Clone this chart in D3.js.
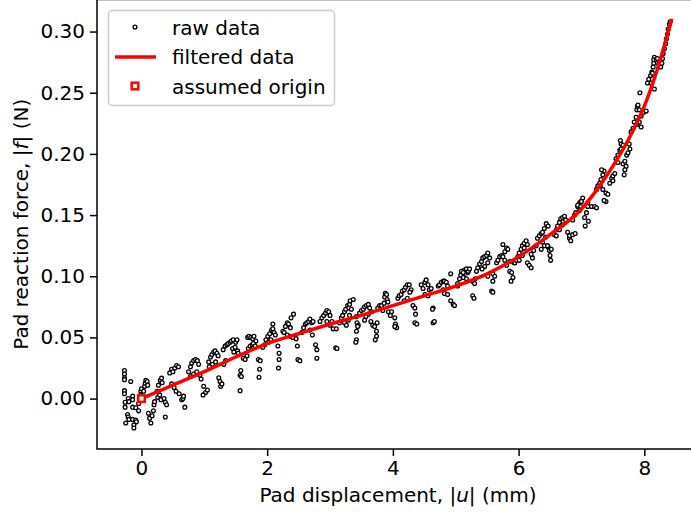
<!DOCTYPE html>
<html>
<head>
  <meta charset="utf-8">
  <title>Pad reaction force</title>
  <script src="https://cdnjs.cloudflare.com/ajax/libs/d3/7.8.5/d3.min.js"></script>
  <style>
    html, body { margin: 0; padding: 0; background: #fff; }
    svg { display: block; font-family: "DejaVu Sans", sans-serif; }
  </style>
</head>
<body>
  <svg id="chart" width="691" height="512"></svg>
  <script>
    const rawData = [
      [-0.27,0.023],[-0.27,0.020],[-0.27,0.017],[-0.27,0.0155],[-0.27,0.0065],[-0.27,0.004],[-0.26,-0.003],[-0.26,-0.007],[-0.25,-0.020],
      [-0.22,-0.013],[-0.21,-0.015],[-0.20,-0.017],[-0.21,0.0],[-0.20,-0.0025],[-0.17,0.014],
      [-0.14,0.002],[-0.14,-0.001],[-0.14,-0.007],[-0.14,-0.017],[-0.12,-0.0215],[-0.12,-0.024],
      [-0.09,-0.0075],[-0.09,-0.0175],[-0.08,-0.019],[-0.045,-0.004],[-0.045,-0.010],[-0.01,0.006],[-0.01,0.003],[0.0,0.008],
      [0.035,0.006],[0.05,0.010],[0.06,0.0125],[0.07,0.015],[0.09,0.014],[0.10,0.011],
      [0.11,-0.012],[0.13,-0.016],[0.15,-0.020],[0.17,-0.014],[0.19,-0.010],[0.2,-0.005],[0.21,-0.0025],
      [0.25,0.006],[0.27,0.011],[0.30,0.015],[0.32,0.0167],[0.33,0.013],[0.26,0.001],[0.29,0.003],[0.31,-0.001],
      [0.38,-0.015],[0.36,0.0],[0.38,-0.003],[0.40,-0.005],
      [0.45,0.021],[0.48,0.024],[0.5,0.022],[0.53,0.025],[0.56,0.027],[0.59,0.026],[0.48,0.012],[0.52,0.009],[0.55,0.006],[0.60,0.004],
      [0.64,-0.001],[0.66,0.0],[0.69,-0.007],[0.67,0.002],
      [0.75,0.022],[0.78,0.026],[0.8,0.029],[0.83,0.031],[0.86,0.032],[0.89,0.031],[0.91,0.028],[0.78,0.018],[0.83,0.020],[0.88,0.022],[0.93,0.019],[0.95,0.016],
      [0.99,0.010],[1.02,0.005],[0.98,0.003],[1.05,0.007],
      [1.07,0.030],[1.1,0.034],[1.12,0.036],[1.15,0.038],[1.17,0.039],[1.2,0.037],[1.22,0.035],[1.08,0.026],[1.13,0.028],[1.18,0.030],
      [1.23,0.017],[1.25,0.014],[1.26,0.010],[1.28,0.012],
      [1.3,0.040],[1.33,0.043],[1.36,0.044],[1.38,0.045],[1.41,0.046],[1.43,0.047],[1.46,0.048],[1.31,0.028],[1.34,0.031],
      [1.45,0.041],[1.47,0.038],[1.49,0.042],[1.5,0.046],[1.52,0.048],[1.53,0.039],[1.54,0.037],
      [1.57,0.019],[1.58,0.023],[1.59,0.018],[1.57,0.0065],
      [1.62,0.033],[1.65,0.032],[1.68,0.035],
      [1.69,0.050],[1.71,0.051],[1.74,0.050],[1.77,0.049],[1.79,0.051],[1.82,0.047],
      [1.70,0.041],[1.73,0.043],[1.76,0.044],[1.78,0.045],[1.81,0.043],
      [1.86,0.032],[1.89,0.031],[1.88,0.024],[1.87,0.0175],
      [1.93,0.042],[1.96,0.044],[1.98,0.048],[2.01,0.051],[2.04,0.053],[2.07,0.056],[2.09,0.057],[2.11,0.054],[2.13,0.052],[2.09,0.061],[2.06,0.048],[2.02,0.046],
      [2.17,0.043],[2.19,0.037],[2.19,0.032],[2.18,0.025],
      [2.25,0.055],[2.27,0.054],[2.29,0.059],[2.32,0.062],[2.34,0.061],[2.37,0.058],[2.32,0.052],[2.37,0.051],[2.38,0.066],[2.42,0.069],
      [2.41,0.050],[2.46,0.049],[2.48,0.043],
      [2.49,0.032],[2.52,0.031],
      [2.55,0.054],[2.58,0.058],[2.61,0.061],[2.63,0.062],[2.66,0.063],[2.68,0.065],[2.71,0.062],[2.73,0.063],[2.68,0.056],[2.72,0.052],
      [2.77,0.044],[2.79,0.040],[2.79,0.033],
      [2.84,0.063],[2.87,0.066],[2.9,0.068],[2.93,0.070],[2.95,0.072],[2.98,0.071],[3.0,0.068],[2.95,0.063],[3.0,0.060],[3.05,0.057],[3.03,0.063],
      [3.09,0.0415],[3.11,0.041],
      [3.10,0.057],[3.15,0.062],[3.18,0.066],[3.2,0.068],[3.23,0.071],[3.25,0.073],[3.28,0.076],[3.31,0.077],[3.32,0.080],[3.23,0.062],
      [3.26,0.060],[3.29,0.064],[3.31,0.068],[3.30,0.074],[3.34,0.073],[3.37,0.081],
      [3.42,0.067],[3.43,0.062],[3.45,0.060],[3.44,0.059],[3.42,0.055],[3.42,0.048],[3.41,0.046],
      [3.47,0.070],[3.50,0.072],[3.53,0.073],[3.55,0.075],[3.58,0.076],[3.61,0.077],[3.63,0.074],[3.66,0.071],[3.61,0.069],[3.57,0.067],[3.55,0.064],
      [3.65,0.063],[3.68,0.060],[3.71,0.059],[3.74,0.055],[3.74,0.051],[3.72,0.048],[3.75,0.062],
      [3.76,0.074],[3.79,0.076],[3.82,0.076],[3.84,0.072],[3.87,0.083],[3.88,0.086],[3.9,0.085],[3.91,0.081],[3.92,0.079],[3.86,0.078],
      [3.93,0.071],[3.98,0.071],[3.96,0.068],
      [4.03,0.066],[4.04,0.061],[4.06,0.058],[4.03,0.059],
      [4.08,0.082],[4.1,0.084],[4.13,0.085],[4.15,0.088],[4.18,0.089],[4.2,0.091],[4.23,0.093],[4.26,0.093],[4.29,0.089],[4.27,0.087],[4.23,0.082],[4.18,0.080],
      [4.32,0.076],[4.35,0.074],[4.36,0.069],[4.35,0.062],[4.38,0.061],
      [4.45,0.093],[4.48,0.090],[4.51,0.095],[4.53,0.097],[4.56,0.093],[4.58,0.089],[4.61,0.090],[4.51,0.085],[4.56,0.084],
      [4.64,0.074],[4.64,0.062],[4.66,0.063],[4.63,0.073],
      [4.72,0.092],[4.74,0.093],[4.77,0.095],[4.8,0.096],[4.82,0.096],[4.85,0.095],[4.87,0.092],[4.8,0.089],[4.82,0.086],[4.87,0.085],[4.92,0.102],
      [4.92,0.080],[4.96,0.077],[4.98,0.076],
      [5.03,0.094],[5.06,0.098],[5.08,0.101],[5.11,0.103],[5.14,0.105],[5.17,0.106],[5.19,0.103],[5.14,0.099],[5.03,0.092],
      [5.09,0.104],[5.12,0.103],[5.2,0.104],[5.22,0.106],[5.12,0.099],[5.17,0.098],
      [5.27,0.096],[5.30,0.094],[5.31,0.098],[5.27,0.084],[5.29,0.082],
      [5.33,0.104],[5.35,0.107],[5.38,0.110],[5.41,0.112],[5.43,0.115],[5.46,0.116],[5.49,0.117],[5.51,0.119],[5.54,0.115],[5.51,0.111],[5.46,0.108],[5.42,0.106],
      [5.51,0.100],[5.59,0.102],[5.62,0.100],[5.59,0.096],[5.57,0.088],[5.59,0.087],
      [5.65,0.111],[5.67,0.113],[5.70,0.116],[5.73,0.117],[5.75,0.116],[5.78,0.120],[5.75,0.126],[5.81,0.123],[5.83,0.122],[5.78,0.113],[5.81,0.109],
      [5.86,0.104],[5.89,0.103],[5.91,0.099],[5.88,0.096],[5.93,0.111],[5.94,0.111],[5.86,0.112],
      [5.96,0.113],[5.99,0.116],[6.01,0.119],[6.04,0.122],[6.06,0.125],[6.09,0.127],[6.12,0.129],[6.09,0.123],[6.14,0.126],[6.06,0.117],[6.01,0.113],
      [6.14,0.111],[6.17,0.109],[6.2,0.107],[6.22,0.115],[6.2,0.118],[6.24,0.121],
      [6.28,0.125],[6.30,0.131],[6.33,0.133],[6.36,0.135],[6.38,0.136],[6.41,0.139],[6.44,0.143],[6.47,0.141],[6.43,0.132],[6.38,0.128],[6.41,0.125],[6.36,0.122],
      [6.47,0.124],[6.49,0.121],[6.50,0.117],[6.51,0.113],[6.46,0.125],[6.52,0.122],
      [6.57,0.134],[6.60,0.138],[6.62,0.141],[6.65,0.144],[6.67,0.147],[6.7,0.148],[6.73,0.149],[6.75,0.146],[6.7,0.142],[6.65,0.138],[6.6,0.133],
      [6.78,0.136],[6.81,0.131],[6.83,0.129],[6.81,0.133],[6.86,0.134],[6.9,0.135],
      [6.86,0.146],[6.89,0.150],[6.91,0.152],[6.94,0.157],[6.97,0.160],[6.99,0.161],[7.02,0.164],[6.97,0.154],
      [6.94,0.158],[7.0,0.161],[6.99,0.157],
      [7.05,0.148],[7.08,0.152],[7.11,0.145],[7.06,0.141],[7.1,0.160],
      [7.1,0.157],[7.16,0.157],[7.21,0.157],[7.24,0.156],
      [7.24,0.171],[7.26,0.174],[7.29,0.176],[7.31,0.179],[7.34,0.183],[7.36,0.186],[7.32,0.187],[7.3,0.174],[7.34,0.171],[7.39,0.168],[7.42,0.167],[7.39,0.161],[7.36,0.162],
      [7.45,0.176],[7.48,0.180],[7.5,0.182],[7.53,0.184],[7.5,0.178],
      [7.55,0.196],[7.58,0.199],[7.61,0.203],[7.63,0.208],[7.62,0.211],[7.66,0.207],[7.63,0.204],[7.58,0.193],[7.66,0.192],[7.69,0.194],[7.71,0.190],[7.69,0.187],[7.68,0.183],
      [7.72,0.199],[7.74,0.201],[7.77,0.204],[7.76,0.208],
      [7.79,0.218],[7.82,0.221],[7.84,0.226],[7.87,0.230],[7.88,0.236],[7.89,0.239],[7.9,0.240],[7.92,0.236],[7.95,0.231],[7.92,0.226],[7.99,0.234],[8.03,0.235],[7.95,0.222],[7.88,0.224],
      [7.93,0.250],
      [8.05,0.258],[8.07,0.261],[8.1,0.264],[8.12,0.267],[8.11,0.258],[8.14,0.271],[8.15,0.274],[8.16,0.279],[8.15,0.277],[8.13,0.266],[8.16,0.253],
      [8.19,0.277],[8.21,0.278],[8.23,0.273],[8.26,0.271],[8.28,0.274],[8.29,0.278],[8.3,0.282],[8.32,0.286],[8.34,0.290],[8.35,0.294],[8.37,0.298],[8.38,0.302],[8.4,0.306],[8.41,0.308]
    ]

    // filtered curve
    const filteredX = [0, 0.5, 1, 1.5, 2, 2.5, 3, 3.5, 4, 4.5, 5, 5.5, 6, 6.5, 7, 7.25, 7.5, 7.75, 8, 8.2, 8.43]
    const filteredY = [0, 0.011, 0.022, 0.034, 0.045, 0.053, 0.061, 0.068, 0.076, 0.084, 0.092, 0.102, 0.116, 0.134, 0.155, 0.171, 0.19, 0.212, 0.239, 0.268, 0.309]

    const origin = [0, 0]
    const xTicks = [0, 2, 4, 6, 8]
    const yTicks = [0, 0.05, 0.10, 0.15, 0.20, 0.25, 0.30]

    // axes box in pixels (the figure is cropped on top and right)
    const axLeft = 97, axRight = 699, axTop = -0.5, axBottom = 449

    const svg = d3.select('#chart')

    const x = d3.scaleLinear().domain([-0.707, 8.87]).range([axLeft, axRight])
    const y = d3.scaleLinear().domain([-0.0412, 0.3262]).range([axBottom, axTop])

    // raw points
    svg.append('g')
      .selectAll('circle')
      .data(rawData)
      .join('circle')
      .attr('cx', d => x(d[0]))
      .attr('cy', d => y(d[1]))
      .attr('r', 1.9)
      .attr('fill', '#fff')
      .attr('stroke', '#000')
      .attr('stroke-width', 1.3)

    // filtered line
    const line = d3.line()
      .x(d => x(d[0]))
      .y(d => y(d[1]))
      .curve(d3.curveMonotoneX)

    svg.append('path')
      .datum(d3.zip(filteredX, filteredY))
      .attr('d', line)
      .attr('fill', 'none')
      .attr('stroke', '#ff0000')
      .attr('stroke-width', 3.5)
      .attr('stroke-linecap', 'square')

    // assumed origin
    svg.append('rect')
      .attr('x', x(origin[0]) - 3.3)
      .attr('y', y(origin[1]) - 3.3)
      .attr('width', 6.6)
      .attr('height', 6.6)
      .attr('fill', '#fff')
      .attr('stroke', '#ff0000')
      .attr('stroke-width', 2.5)

    // spines
    svg.append('rect')
      .attr('x', axLeft)
      .attr('y', axTop)
      .attr('width', axRight - axLeft)
      .attr('height', axBottom - axTop)
      .attr('fill', 'none')
      .attr('stroke', '#000')
      .attr('stroke-width', 1.5)

    // x axis
    const xAxis = svg.append('g')
      .attr('transform', `translate(0,${axBottom})`)
      .call(d3.axisBottom(x).tickValues(xTicks).tickSize(7).tickPadding(5).tickFormat(d3.format('d')))
    xAxis.select('.domain').remove()

    // y axis
    const yAxis = svg.append('g')
      .attr('transform', `translate(${axLeft},0)`)
      .call(d3.axisLeft(y).tickValues(yTicks).tickSize(7).tickPadding(5).tickFormat(d3.format('.2f')))
    yAxis.select('.domain').remove()

    svg.selectAll('.tick line').attr('stroke', '#000').attr('stroke-width', 1.5)
    svg.selectAll('.tick text')
      .attr('fill', '#000')
      .style('font-family', '"DejaVu Sans", sans-serif')
      .style('font-size', '20px')

    // axis labels
    const xLabel = svg.append('text')
      .attr('x', (axLeft + axRight) / 2)
      .attr('y', 502)
      .attr('text-anchor', 'middle')
      .style('font-size', '20px')
    xLabel.append('tspan').text('Pad displacement, |')
    xLabel.append('tspan').attr('font-style', 'italic').text('u')
    xLabel.append('tspan').text('| (mm)')

    const yLabel = svg.append('text')
      .attr('transform', `translate(28,${(axTop + axBottom) / 2}) rotate(-90)`)
      .attr('text-anchor', 'middle')
      .style('font-size', '20px')
    yLabel.append('tspan').text('Pad reaction force, |')
    yLabel.append('tspan').attr('font-style', 'italic').text('f')
    yLabel.append('tspan').text('| (N)')

    // legend
    const legend = svg.append('g')
    legend.append('rect')
      .attr('x', 108.5)
      .attr('y', 10.5)
      .attr('width', 226)
      .attr('height', 95)
      .attr('rx', 4)
      .attr('fill', '#fff')
      .attr('fill-opacity', 0.8)
      .attr('stroke', '#cccccc')
      .attr('stroke-width', 1.5)

    legend.append('circle')
      .attr('cx', 135).attr('cy', 27).attr('r', 1.9)
      .attr('fill', '#fff').attr('stroke', '#000').attr('stroke-width', 1.3)
    legend.append('line')
      .attr('x1', 115).attr('x2', 156).attr('y1', 57).attr('y2', 57)
      .attr('stroke', '#ff0000').attr('stroke-width', 3.5)
    legend.append('rect')
      .attr('x', 135 - 3.3).attr('y', 86 - 3.3).attr('width', 6.6).attr('height', 6.6)
      .attr('fill', '#fff').attr('stroke', '#ff0000').attr('stroke-width', 2.5)

    const legendLabels = ['raw data', 'filtered data', 'assumed origin']
    legend.selectAll('text.lbl')
      .data(legendLabels)
      .join('text')
      .attr('class', 'lbl')
      .attr('x', 172)
      .attr('y', (d, i) => 34.5 + i * 29.5)
      .style('font-size', '20px')
      .text(d => d)
  </script>
</body>
</html>
